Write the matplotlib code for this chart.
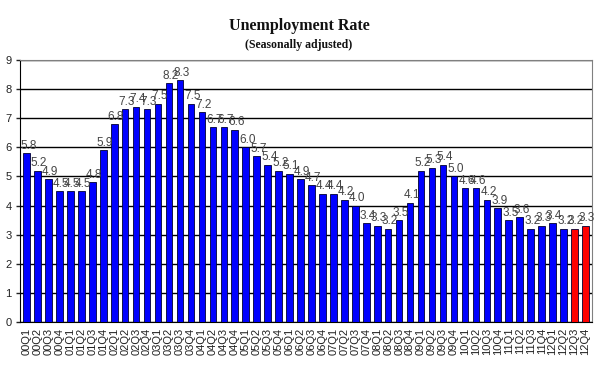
import matplotlib.pyplot as plt
import numpy as np

years = ['00', '01', '02', '03', '04', '05', '06', '07', '08', '09', '10', '11', '12']
quarters = [y + 'Q' + str(q) for y in years for q in range(1, 5)]

rate = [5.8, 5.2, 4.9, 4.5,
        4.5, 4.5, 4.8, 5.9,
        6.8, 7.3, 7.4, 7.3,
        7.5, 8.2, 8.3, 7.5,
        7.2, 6.7, 6.7, 6.6,
        6.0, 5.7, 5.4, 5.2,
        5.1, 4.9, 4.7, 4.4,
        4.4, 4.2, 4.0, 3.4,
        3.3, 3.2, 3.5, 4.1,
        5.2, 5.3, 5.4, 5.0,
        4.6, 4.6, 4.2, 3.9,
        3.5, 3.6, 3.2, 3.3,
        3.4, 3.2, 3.2, 3.3]

n_forecast = 2

if __name__ == "__main__":

    plt.rcParams['font.family'] = ['Liberation Sans', 'DejaVu Sans']

    fig = plt.figure(figsize=(5.98, 3.67), dpi=100)
    ax = fig.add_axes([0.0334, 0.1226, 0.9566, 0.7139])

    x = np.arange(len(rate))
    colors = ['#0000ff'] * (len(rate) - n_forecast) + ['#ff0000'] * n_forecast

    ax.set_axisbelow(True)
    ax.yaxis.grid(True, color='black', linewidth=1.0)
    ax.bar(x, rate, width=0.6, color=colors, edgecolor='#000033', linewidth=0.6, zorder=3)

    for xi, v in zip(x, rate):
        ax.text(xi + 0.15, v + 0.05, '%.1f' % v, ha='center', va='bottom',
                fontsize=8.5, color='#444444', zorder=4)

    ax.set_xlim(-0.6, len(rate) - 0.4)
    ax.set_ylim(0, 9)
    ax.set_yticks(range(0, 10))
    ax.set_xticks(x)
    ax.set_xticklabels(quarters, rotation=90, fontsize=8, color='#222222')
    ax.tick_params(axis='y', labelsize=8, length=3, width=1, pad=3, colors='#222222')
    ax.tick_params(axis='x', length=0, pad=4)

    ax.spines['left'].set_color('black')
    ax.spines['bottom'].set_color('black')
    ax.spines['top'].set_color('#808080')
    ax.spines['right'].set_color('#808080')

    fig.text(0.5, 0.928, 'Unemployment Rate', ha='center', va='center',
             fontsize=11.5, fontweight='bold', family='Liberation Serif', color='#111111')
    fig.text(0.5, 0.878, '(Seasonally adjusted)', ha='center', va='center',
             fontsize=8.5, fontweight='bold', family='Liberation Serif', color='#111111')

    fig.savefig('out.png', dpi=100)
